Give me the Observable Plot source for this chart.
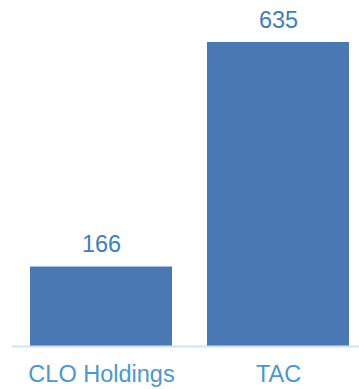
<!DOCTYPE html>
<html>
<head>
<meta charset="utf-8">
<script src="https://cdn.jsdelivr.net/npm/d3@7"></script>
<script src="https://cdn.jsdelivr.net/npm/@observablehq/plot@0.6"></script>
<style>
  html, body { margin: 0; padding: 0; background: #fff; }
  #chart svg { display: block; }
</style>
</head>
<body>
<div id="chart"></div>
<script>
const categories = ["CLO Holdings", "TAC"];
const values = [166, 635];

const data = categories.map((c, i) => ({category: c, value: values[i]}));

const chart = Plot.plot({
  width: 359,
  height: 389,
  marginTop: 42,
  marginBottom: 43,
  marginLeft: 12,
  marginRight: 0,
  style: {fontFamily: "'Liberation Sans', Arial, sans-serif", fontSize: "23.5px", background: "#fff"},
  x: {domain: categories, paddingInner: 0.2, paddingOuter: 0.08, align: 0.634, label: null},
  y: {domain: [0, d3.max(values)], axis: null},
  marks: [
    Plot.barY(data, {x: "category", y: "value", fill: "#4a78b3"}),
    Plot.ruleY([0], {stroke: "#d3e2f1", strokeWidth: 2}),
    Plot.text(data, {x: "category", y: "value", text: d => String(d.value), lineAnchor: "bottom", dy: -15, fill: "#3d80b8", fontSize: 23.5}),
    Plot.axisX({tickSize: 0, tickPadding: 19, label: null, color: "#4c98cb", fontSize: 23.5})
  ]
});
document.getElementById("chart").appendChild(chart);
</script>
</body>
</html>
